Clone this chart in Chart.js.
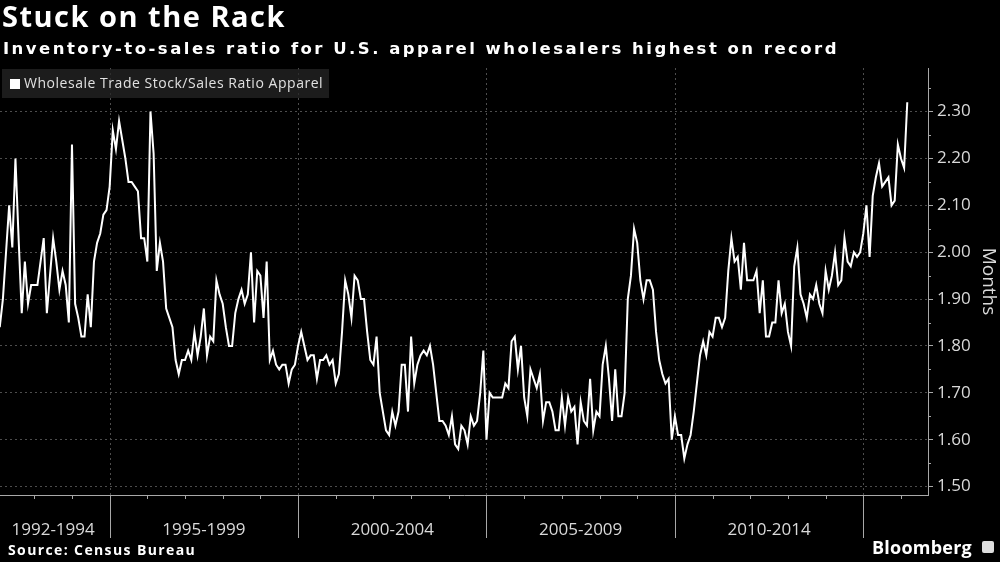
<!DOCTYPE html>
<html>
<head>
<meta charset="utf-8">
<script src="https://cdn.jsdelivr.net/npm/chart.js@4.4.1/dist/chart.umd.min.js"></script>
<style>
  html, body { margin: 0; padding: 0; background: #000; }
  #wrap { position: relative; width: 1000px; height: 562px; overflow: hidden; font-family: "Open Sans", sans-serif; color: #e6e6e6; }
  #c { position: absolute; left: 0; top: 0; }
  .txt { position: absolute; white-space: nowrap; }
  #title { left: 2px; top: -4px; font-size: 29px; font-weight: 700; color: #fff; }
  #subtitle { left: 3px; top: 39px; font-family: "DejaVu Sans", sans-serif; font-size: 16.5px; font-weight: 700; color: #fff; }
  #legend { position: absolute; left: 2px; top: 69px; width: 327px; height: 29px; background: rgba(38,38,38,0.75); }
  #legend .sq { position: absolute; left: 8px; top: 10px; width: 10px; height: 10px; background: #fff; }
  #legend .lbl { position: absolute; left: 22px; top: 4px; font-size: 14px; color: #e0e0e0; white-space: nowrap; }
  #source { left: 8px; top: 540px; font-size: 14px; font-weight: 700; color: #fff; }
  #brand { left: 872px; top: 535px; font-size: 18px; font-weight: 700; color: #fff; }
  #icon { position: absolute; left: 982px; top: 541px; width: 12px; height: 12px; background: #ddd; border-radius: 2px; }
</style>
</head>
<body>
<div id="wrap">
  <canvas id="c" width="1000" height="562"></canvas>
  <div class="txt" id="title">Stuck on the Rack</div>
  <div class="txt" id="subtitle">Inventory-to-sales ratio for U.S. apparel wholesalers highest on record</div>
  <div id="legend"><div class="sq"></div><div class="lbl" id="legendLbl">Wholesale Trade Stock/Sales Ratio Apparel</div></div>
  <div class="txt" id="source">Source: Census Bureau</div>
  <div class="txt" id="brand">Bloomberg</div>
  <div id="icon"></div>
</div>
<script>
// monthly series, first value = Feb 1992 (months counted from Jan 1992)
const firstMonth = 1;
const ratio = [
  1.84, 1.90, 2.00, 2.10, 2.01, 2.20, 2.03, 1.87, 1.98, 1.89, 1.93,          // 1992
  1.93, 1.93, 1.98, 2.03, 1.87, 1.95, 2.03, 1.98, 1.92, 1.96, 1.93, 1.85,    // 1993
  2.23, 1.89, 1.86, 1.82, 1.82, 1.91, 1.84, 1.98, 2.02, 2.04, 2.08, 2.09,    // 1994
  2.14, 2.26, 2.22, 2.28, 2.24, 2.20, 2.15, 2.15, 2.14, 2.13, 2.03, 2.03,    // 1995
  1.98, 2.30, 2.21, 1.96, 2.02, 1.98, 1.88, 1.86, 1.84, 1.77, 1.74, 1.77,    // 1996
  1.77, 1.79, 1.77, 1.83, 1.78, 1.82, 1.88, 1.78, 1.82, 1.81, 1.94, 1.91,    // 1997
  1.89, 1.84, 1.80, 1.80, 1.87, 1.90, 1.92, 1.89, 1.91, 2.00, 1.85, 1.96,    // 1998
  1.95, 1.86, 1.98, 1.77, 1.79, 1.76, 1.75, 1.76, 1.76, 1.72, 1.75, 1.76,    // 1999
  1.80, 1.83, 1.80, 1.77, 1.78, 1.78, 1.73, 1.77, 1.77, 1.78, 1.76, 1.77,    // 2000
  1.72, 1.74, 1.83, 1.94, 1.91, 1.86, 1.95, 1.94, 1.90, 1.90, 1.83, 1.77,    // 2001
  1.76, 1.82, 1.70, 1.66, 1.62, 1.61, 1.66, 1.63, 1.66, 1.76, 1.76, 1.66,    // 2002
  1.82, 1.72, 1.76, 1.78, 1.79, 1.78, 1.80, 1.76, 1.70, 1.64, 1.64, 1.63,    // 2003
  1.61, 1.65, 1.59, 1.58, 1.63, 1.62, 1.59, 1.65, 1.63, 1.64, 1.70, 1.79,    // 2004
  1.60, 1.70, 1.69, 1.69, 1.69, 1.69, 1.72, 1.71, 1.81, 1.82, 1.75, 1.80,    // 2005
  1.69, 1.65, 1.75, 1.73, 1.71, 1.74, 1.64, 1.68, 1.68, 1.66, 1.62, 1.62,    // 2006
  1.69, 1.63, 1.69, 1.66, 1.67, 1.59, 1.68, 1.64, 1.63, 1.73, 1.62, 1.66,    // 2007
  1.65, 1.76, 1.80, 1.73, 1.64, 1.75, 1.65, 1.65, 1.70, 1.90, 1.95, 2.05,    // 2008
  2.02, 1.94, 1.90, 1.94, 1.94, 1.92, 1.83, 1.77, 1.74, 1.72, 1.73, 1.60,    // 2009
  1.65, 1.61, 1.61, 1.56, 1.59, 1.61, 1.66, 1.72, 1.78, 1.81, 1.78, 1.83,    // 2010
  1.82, 1.86, 1.86, 1.84, 1.86, 1.96, 2.03, 1.98, 1.99, 1.92, 2.02, 1.94,    // 2011
  1.94, 1.94, 1.96, 1.87, 1.94, 1.82, 1.82, 1.85, 1.85, 1.94, 1.87, 1.89,    // 2012
  1.83, 1.80, 1.97, 2.01, 1.91, 1.89, 1.86, 1.91, 1.90, 1.93, 1.89, 1.87,    // 2013
  1.96, 1.92, 1.95, 2.00, 1.93, 1.94, 2.03, 1.98, 1.97, 2.00, 1.99, 2.00,    // 2014
  2.04, 2.10, 1.99, 2.12, 2.16, 2.19, 2.14, 2.15, 2.16, 2.10, 2.11, 2.23,    // 2015
  2.20, 2.18, 2.32                                                           // 2016
];
const periodYears = [1992, 1995, 2000, 2005, 2010, 2015];
const periodLabels = ['1992-1994', '1995-1999', '2000-2004', '2005-2009', '2010-2014'];
const yTicks = [1.5, 1.6, 1.7, 1.8, 1.9, 2.0, 2.1, 2.2, 2.3];
const lastYear = 2016;

const toMonth = (yr) => (yr - 1992) * 12;
const points = ratio.map((v, i) => ({ x: firstMonth + i, y: v }));
const boundaries = periodYears.map(toMonth);
const mids = periodLabels.map((_, i) => (boundaries[i] + boundaries[i + 1]) / 2);

const AXIS = '#a8a8a8';
const GRID = '#4d4d4d';

// stretch letter spacing so a text block spans the same width as in the original
function fitWidth(id, target) {
    const el = document.getElementById(id);
    el.style.letterSpacing = '0px';
    const w = el.getBoundingClientRect().width;
    el.style.letterSpacing = ((target - w) / el.textContent.length).toFixed(2) + 'px';
}
fitWidth('title', 284);
fitWidth('subtitle', 836);
fitWidth('legendLbl', 299);
fitWidth('source', 188);
fitWidth('brand', 100);

// extra axis furniture: period dividers, year ticks, minor y ticks
const axisDeco = {
    id: 'axisDeco',
    beforeDatasetsDraw(chart) {
        const { ctx, chartArea: a, scales: { x } } = chart;
        ctx.save();
        ctx.strokeStyle = GRID;
        ctx.lineWidth = 1;
        ctx.setLineDash([2, 3]);
        boundaries.slice(1).forEach(b => {
            const px = Math.round(x.getPixelForValue(b)) + 0.5;
            ctx.beginPath(); ctx.moveTo(px, a.top); ctx.lineTo(px, a.bottom); ctx.stroke();
        });
        ctx.restore();
    },
    afterDraw(chart) {
        const { ctx, chartArea: a, scales: { x, y } } = chart;
        ctx.save();
        ctx.strokeStyle = AXIS;
        ctx.lineWidth = 1;
        boundaries.slice(1).forEach(b => {
            const px = Math.round(x.getPixelForValue(b)) + 0.5;
            ctx.beginPath(); ctx.moveTo(px, a.bottom); ctx.lineTo(px, a.bottom + 43); ctx.stroke();
        });
        for (let yr = 1993; yr <= lastYear; yr++) {
            if (periodYears.includes(yr)) continue;
            const px = Math.round(x.getPixelForValue(toMonth(yr))) + 0.5;
            ctx.beginPath(); ctx.moveTo(px, a.bottom); ctx.lineTo(px, a.bottom + 4); ctx.stroke();
        }
        yTicks.forEach(t => {
            const py = Math.round(y.getPixelForValue(t + 0.05)) + 0.5;
            if (py < a.top) return;
            ctx.beginPath(); ctx.moveTo(a.right, py); ctx.lineTo(a.right + 3, py); ctx.stroke();
        });
        ctx.restore();
    }
};

new Chart(document.getElementById('c'), {
    type: 'line',
    data: {
        datasets: [{
            data: points,
            borderColor: '#ffffff',
            borderWidth: 2,
            pointRadius: 0,
            tension: 0,
            fill: false
        }]
    },
    options: {
        responsive: false,
        animation: false,
        parsing: false,
        layout: { padding: { left: 0, right: 0, top: 68, bottom: 0 } },
        plugins: { legend: { display: false }, tooltip: { enabled: false } },
        scales: {
            x: {
                type: 'linear',
                min: 1.08,
                max: 296.6,
                grid: { display: false },
                border: { display: true, color: AXIS, width: 1 },
                afterBuildTicks: (s) => { s.ticks = mids.map(v => ({ value: v })); },
                afterFit: (s) => { s.height = 67; s.paddingLeft = 0; s.paddingRight = 0; },
                ticks: {
                    autoSkip: false,
                    maxRotation: 0,
                    padding: 17,
                    color: '#d9d9d9',
                    font: { family: 'Open Sans', size: 17 },
                    callback: (v, i) => periodLabels[i]
                }
            },
            y: {
                position: 'right',
                min: 1.482,
                max: 2.393,
                afterBuildTicks: (s) => { s.ticks = yTicks.map(v => ({ value: v })); },
                afterFit: (s) => { s.width = 72; },
                grid: { color: GRID, drawTicks: true, tickLength: 5, tickColor: AXIS },
                border: { display: true, color: AXIS, width: 1, dash: [2, 3] },
                ticks: {
                    padding: 4,
                    color: '#d9d9d9',
                    font: { family: 'Open Sans', size: 17 },
                    callback: (v) => Number(v).toFixed(2)
                },
                title: {
                    display: true,
                    text: 'Months',
                    color: '#d9d9d9',
                    font: { family: 'Open Sans', size: 19 },
                    padding: { top: 0, bottom: 4 }
                }
            }
        }
    },
    plugins: [axisDeco]
});
</script>
</body>
</html>
